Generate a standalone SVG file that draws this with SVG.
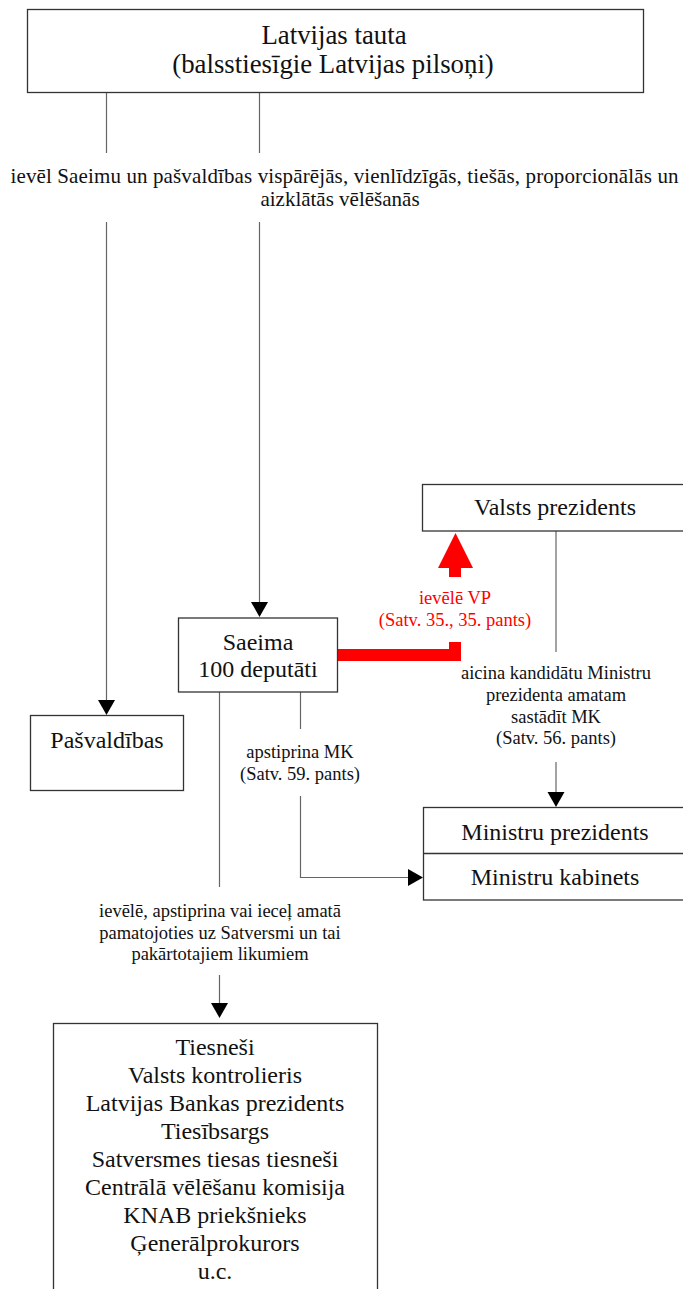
<svg xmlns="http://www.w3.org/2000/svg" width="683" height="1289" viewBox="0 0 683 1289">
<defs>
<style>
.box{fill:#fff;stroke:#333;stroke-width:1.3}
.t{font-family:"Liberation Serif","Times New Roman",serif;fill:#111;text-anchor:middle}
.big{font-size:24px}
.title{font-size:26.8px}
.lbl{font-size:18.5px}
.lbl2{font-size:21px}
.red{fill:#ff0000}
.ln{fill:none;stroke:#666;stroke-width:1.2}
.ah{fill:#000}
</style>
</defs>
<rect width="683" height="1289" fill="#fff"/>
<g id="connectors">
<path class="ln" d="M106.5 92V153M259.5 92V153"/>
<path class="ln" d="M106.5 222V700"/>
<polygon class="ah" points="98,700 115,700 106.5,715"/>
<path class="ln" d="M259.5 222V602"/>
<polygon class="ah" points="251,602 268,602 259.5,617"/>
<path class="ln" d="M219.5 692V887M219.5 975V1003"/>
<polygon class="ah" points="211,1003 228,1003 219.5,1018"/>
<path class="ln" d="M300.5 692V729M300.5 796V877.5H408"/>
<polygon class="ah" points="408,869 408,886 423,877.5"/>
<path class="ln" d="M556 531V652M556 762V792"/>
<polygon class="ah" points="547.5,792 564.5,792 556,807"/>
<polyline points="337,655 455,655 455,642" fill="none" stroke="#ff0000" stroke-width="12" stroke-linejoin="miter"/>
<rect x="449" y="567" width="12" height="10" fill="#ff0000"/>
<polygon points="438,568 473,568 455.5,533" fill="#ff0000"/>
<g class="t lbl2">
<text x="344.5" y="182.5" textLength="668" lengthAdjust="spacing">ievēl Saeimu un pašvaldības vispārējās, vienlīdzīgās, tiešās, proporcionālās un</text>
<text x="340" y="206">aizklātās vēlēšanās</text>
</g>
<g class="t lbl">
<text class="red" x="455" y="604">ievēlē VP</text>
<text class="red" x="455" y="626">(Satv. 35., 35. pants)</text>
<text x="556" y="679">aicina kandidātu Ministru</text>
<text x="556" y="701">prezidenta amatam</text>
<text x="556" y="722.5">sastādīt MK</text>
<text x="556" y="744">(Satv. 56. pants)</text>
<text x="300" y="758">apstiprina MK</text>
<text x="300" y="780">(Satv. 59. pants)</text>
<text x="220" y="917">ievēlē, apstiprina vai ieceļ amatā</text>
<text x="220" y="938.5">pamatojoties uz Satversmi un tai</text>
<text x="220" y="960">pakārtotajiem likumiem</text>
</g>
</g>
<g id="latvijas-tauta">
<rect class="box" x="27.5" y="9.5" width="616" height="83"/>
<text class="t title" x="334" y="43.5">Latvijas tauta</text>
<text class="t title" x="333" y="73">(balsstiesīgie Latvijas pilsoņi)</text>
</g>
<g id="valsts-prezidents">
<rect class="box" x="422.5" y="484.5" width="270" height="46.5"/>
<text class="t big" x="555" y="515">Valsts prezidents</text>
</g>
<g id="saeima">
<rect class="box" x="178.5" y="618" width="159" height="74"/>
<text class="t big" x="258" y="649.5">Saeima</text>
<text class="t big" x="258" y="677">100 deputāti</text>
</g>
<g id="pasvaldibas">
<rect class="box" x="30.5" y="715.5" width="153" height="75"/>
<text class="t big" x="107" y="747.5">Pašvaldības</text>
</g>
<g id="ministri">
<rect class="box" x="423.5" y="807.5" width="270" height="92.5"/>
<path d="M423.5 853.5H693" stroke="#333" stroke-width="1.3"/>
<text class="t big" x="555" y="839.5">Ministru prezidents</text>
<text class="t big" x="555" y="884.5">Ministru kabinets</text>
</g>
<g id="amatpersonas">
<rect class="box" x="53.5" y="1023.5" width="324" height="280"/>
<g class="t big">
<text x="215" y="1054.5">Tiesneši</text>
<text x="215" y="1082.5">Valsts kontrolieris</text>
<text x="215" y="1110.5">Latvijas Bankas prezidents</text>
<text x="215" y="1138.5">Tiesībsargs</text>
<text x="215" y="1166.5">Satversmes tiesas tiesneši</text>
<text x="215" y="1194.5">Centrālā vēlēšanu komisija</text>
<text x="215" y="1222.5">KNAB priekšnieks</text>
<text x="215" y="1250.5">Ģenerālprokurors</text>
<text x="215" y="1278.5">u.c.</text>
</g>
</g>
</svg>
